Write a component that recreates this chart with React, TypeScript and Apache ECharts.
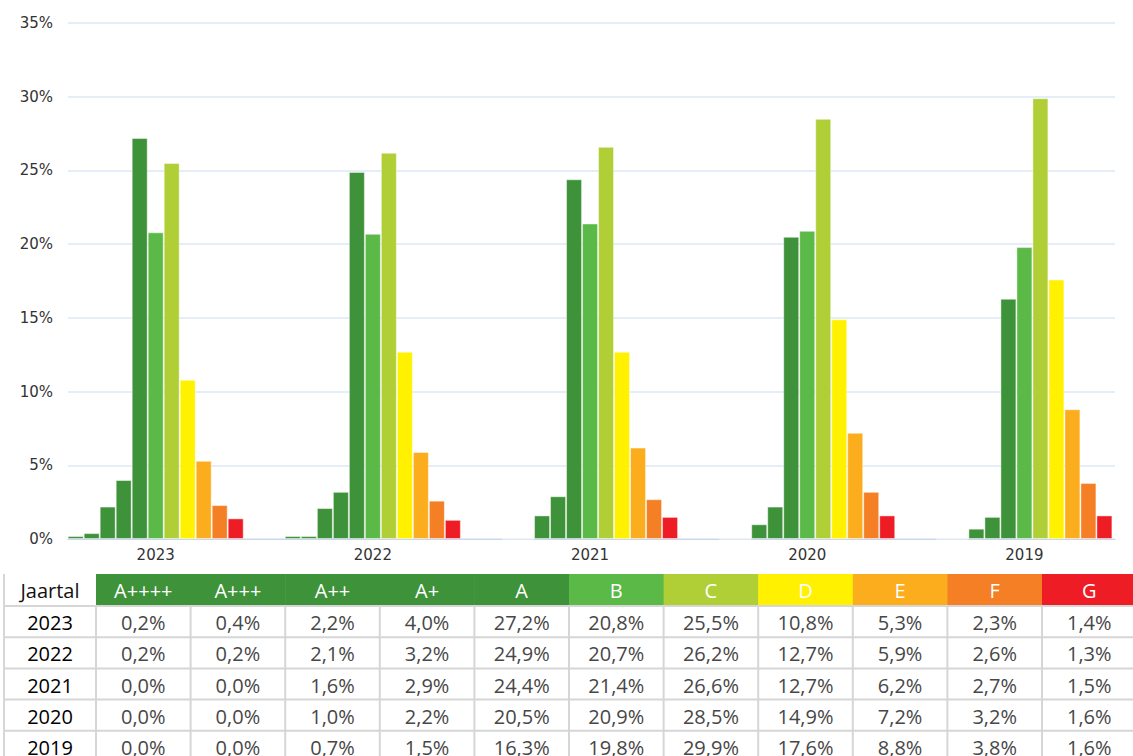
import React, { useEffect, useRef } from "react";
import * as echarts from "echarts";

const years = ["2023", "2022", "2021", "2020", "2019"];
const grades = ["A++++", "A+++", "A++", "A+", "A", "B", "C", "D", "E", "F", "G"];
const gradeColors = [
  "#3e9239", "#3e9239", "#3e9239", "#3e9239", "#3e9239",
  "#5ab947", "#b0cf37", "#fff100", "#fbad1d", "#f47f25", "#ee1c25",
];
const yTicks = [0, 5, 10, 15, 20, 25, 30, 35];

const vAPlus4 = [0.2, 0.2, 0.0, 0.0, 0.0];
const vAPlus3 = [0.4, 0.2, 0.0, 0.0, 0.0];
const vAPlus2 = [2.2, 2.1, 1.6, 1.0, 0.7];
const vAPlus1 = [4.0, 3.2, 2.9, 2.2, 1.5];
const vA = [27.2, 24.9, 24.4, 20.5, 16.3];
const vB = [20.8, 20.7, 21.4, 20.9, 19.8];
const vC = [25.5, 26.2, 26.6, 28.5, 29.9];
const vD = [10.8, 12.7, 12.7, 14.9, 17.6];
const vE = [5.3, 5.9, 6.2, 7.2, 8.8];
const vF = [2.3, 2.6, 2.7, 3.2, 3.8];
const vG = [1.4, 1.3, 1.5, 1.6, 1.6];
const seriesValues = [vAPlus4, vAPlus3, vAPlus2, vAPlus1, vA, vB, vC, vD, vE, vF, vG];

const fmt = (v: number) => v.toFixed(1).replace(".", ",") + "%";

function buildTable() {
  const els: any[] = [];
  const x0 = 96;
  const colW = 94.6;
  const firstX = 4;
  const headTop = 574;
  const headBot = 606;
  const rowH = 31.2;
  const lineColor = "#d6d6d6";
  const font = "Open Sans, sans-serif";
  const fs = 20;
  grades.forEach((g, i) => {
    els.push({
      type: "rect",
      shape: { x: x0 + i * colW, y: headTop, width: colW + 0.5, height: headBot - headTop },
      style: { fill: gradeColors[i] },
      silent: true,
    });
    els.push({
      type: "text",
      x: x0 + i * colW + colW / 2,
      y: (headTop + headBot) / 2,
      style: {
        text: g, fill: "#ffffff", font: `${fs}px ${font}`,
        align: "center", verticalAlign: "middle",
        textAlign: "center", textVerticalAlign: "middle",
      },
      silent: true,
    });
  });
  els.push({
    type: "text",
    x: (firstX + x0) / 2,
    y: (headTop + headBot) / 2,
    style: {
      text: "Jaartal", fill: "#111111", font: `${fs}px ${font}`,
      align: "center", verticalAlign: "middle",
      textAlign: "center", textVerticalAlign: "middle",
    },
    silent: true,
  });
  const bottom = headBot + rowH * years.length + 5;
  for (let r = 0; r <= years.length; r++) {
    const y = headBot + r * rowH;
    els.push({
      type: "line",
      shape: { x1: firstX, y1: y, x2: 1133, y2: y },
      style: { stroke: lineColor, lineWidth: 2 },
      silent: true,
    });
  }
  els.push({
    type: "line",
    shape: { x1: firstX, y1: headTop, x2: firstX, y2: bottom },
    style: { stroke: lineColor, lineWidth: 2 },
    silent: true,
  });
  for (let c = 0; c <= grades.length; c++) {
    const x = x0 + c * colW;
    els.push({
      type: "line",
      shape: { x1: x, y1: headBot, x2: x, y2: bottom },
      style: { stroke: lineColor, lineWidth: 2 },
      silent: true,
    });
  }
  years.forEach((yr, r) => {
    const cy = headBot + r * rowH + rowH / 2 + 1;
    els.push({
      type: "text",
      x: (firstX + x0) / 2,
      y: cy,
      style: {
        text: yr, fill: "#000000", font: `${fs}px ${font}`,
        align: "center", verticalAlign: "middle",
        textAlign: "center", textVerticalAlign: "middle",
      },
      silent: true,
    });
    seriesValues.forEach((vals, c) => {
      els.push({
        type: "text",
        x: x0 + c * colW + colW / 2,
        y: cy,
        style: {
          text: fmt(vals[r]), fill: "#474747", font: `${fs}px ${font}`,
          align: "center", verticalAlign: "middle",
          textAlign: "center", textVerticalAlign: "middle",
        },
        silent: true,
      });
    });
  });
  return els;
}

export default function App() {
  const ref = useRef<HTMLDivElement>(null);
  useEffect(() => {
    if (!ref.current) return;
    const chart = echarts.init(ref.current, undefined, { renderer: "svg" });
    const axisFont = "DejaVu Sans";
    chart.setOption({
      animation: false,
      backgroundColor: "#ffffff",
      grid: [
        { left: 68, right: 18, top: 23, bottom: 217 },
        { left: 47.1, width: 1088.75, top: 23, bottom: 217 },
      ],
      xAxis: [
        {
          type: "category",
          gridIndex: 0,
          data: years,
          axisLine: { show: true, lineStyle: { color: "#ccd6eb", width: 1 } },
          axisTick: { show: false },
          axisLabel: { show: false },
          splitLine: { show: false },
        },
        {
          type: "category",
          gridIndex: 1,
          data: years,
          axisLine: { show: false },
          axisTick: { show: false },
          axisLabel: { color: "#333333", fontSize: 15, fontFamily: axisFont, margin: 8 },
          splitLine: { show: false },
        },
      ],
      yAxis: [
        {
          type: "value",
          gridIndex: 0,
          min: 0,
          max: 35,
          interval: 5,
          axisLine: { show: false },
          axisTick: { show: false },
          axisLabel: {
            color: "#333333", fontSize: 15, fontFamily: axisFont, margin: 15,
            formatter: (v: number) => (yTicks.includes(v) ? `${v}%` : ""),
          },
          splitLine: { lineStyle: { color: "#dde7f4", width: 1.5 } },
        },
        {
          type: "value",
          gridIndex: 1,
          min: 0,
          max: 35,
          interval: 5,
          show: false,
          splitLine: { show: false },
        },
      ],
      series: grades.map((g, i) => ({
        name: g,
        type: "bar",
        xAxisIndex: 1,
        yAxisIndex: 1,
        data: seriesValues[i],
        barWidth: 16,
        barGap: "0%",
        itemStyle: {
          color: gradeColors[i],
          borderColor: "rgba(255,255,255,0.45)",
          borderWidth: 1,
        },
      })),
      graphic: { elements: buildTable() },
    });
    return () => chart.dispose();
  }, []);
  return (
    <div
      ref={ref}
      style={{ position: "absolute", left: 0, top: 0, width: 1133, height: 756 }}
    />
  );
}
